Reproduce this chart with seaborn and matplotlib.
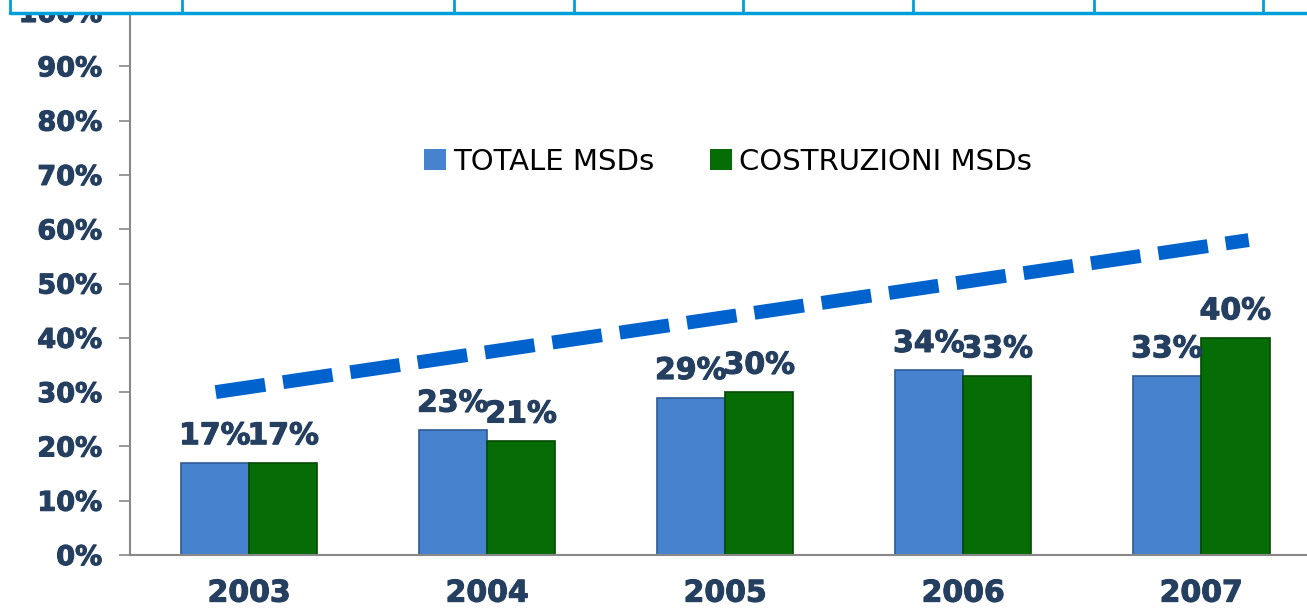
import numpy as np
import pandas as pd
import seaborn as sns
import matplotlib.pyplot as plt
import matplotlib.patheffects as pe
from matplotlib.patches import Rectangle
from matplotlib.lines import Line2D

# data
years = ["2003", "2004", "2005", "2006", "2007"]
totale = [17, 23, 29, 34, 33]
costruzioni = [17, 21, 30, 33, 40]
series_names = ["TOTALE MSDs", "COSTRUZIONI MSDs"]
trend_x = [-0.14, 4.2]
trend_y = [30, 58]
yticks = list(range(0, 101, 10))

navy = "#243F60"
blue = "#4682CE"
green = "#066C06"
thick = [pe.withStroke(linewidth=0.8, foreground=navy)]

df = pd.DataFrame({
    "anno": years * 2,
    "valore": totale + costruzioni,
    "serie": [series_names[0]] * len(years) + [series_names[1]] * len(years),
})

sns.set_style("white")
plt.rcParams['font.family'] = ['DejaVu Sans']

fig = plt.figure(figsize=(13.07, 6.08), dpi=100)
ax = fig.add_axes([130 / 1307, 53 / 608, 1177 / 1307, 543 / 608])

sns.barplot(data=df, x="anno", y="valore", hue="serie", palette=[blue, green],
            width=0.575, ax=ax, saturation=1, edgecolor=None, linewidth=0)

# darker edges, a bit like the bevel in the original
for bars, ec in zip(ax.containers, ["#2F5A94", "#044A04"]):
    for b in bars:
        b.set_edgecolor(ec)
        b.set_linewidth(1.2)
    labs = ax.bar_label(bars, labels=[f"{int(v)}%" for v in bars.datavalues], padding=9,
                        fontsize=21.5, fontweight="bold", color=navy)
    for t in labs:
        t.set_path_effects(thick)

# trend line
ax.plot(trend_x, trend_y, color="#0062CC", linewidth=10, dashes=(3.6, 1.3),
        solid_capstyle="butt", dash_capstyle="butt", zorder=5)

ax.set_yticks(yticks)
ax.set_yticklabels([f"{t}%" for t in yticks], fontsize=19.5, fontweight="bold", color=navy,
                   path_effects=thick)
ax.set_xticks(range(len(years)))
ax.set_xticklabels(years, fontsize=21.5, fontweight="bold", color=navy, path_effects=thick)
ax.set_xticks(np.arange(-0.5, len(years), 1), minor=True)
ax.set_ylim(0, 100)
ax.set_xlim(-0.5, 4.445)
ax.tick_params(axis="x", which="major", length=0, pad=17)
ax.tick_params(axis="x", which="minor", length=8, width=1.2, color="#888888", direction="out")
ax.tick_params(axis="y", length=8, width=1.2, color="#888888", direction="out", pad=12, left=True)
ax.set_xlabel("")
ax.set_ylabel("")

sns.despine(ax=ax, top=True, right=True)
for s in ["left", "bottom"]:
    ax.spines[s].set_color("#888888")
    ax.spines[s].set_linewidth(1.5)

leg = ax.legend(loc="center", bbox_to_anchor=(0.508, 0.724), ncol=2, frameon=False,
                fontsize=21, handlelength=0.75, handleheight=0.75, columnspacing=1.9,
                handletextpad=0.25)
for t in leg.get_texts():
    t.set_color("black")

# table border strip at the very top
fig.add_artist(Rectangle((0, 1 - 13 / 608), 1, 13 / 608, transform=fig.transFigure,
                         facecolor="white", edgecolor="none", zorder=10))
fig.add_artist(Line2D([10 / 1307, 1], [1 - 13 / 608] * 2, transform=fig.transFigure,
                      color="#009FD9", linewidth=2.5, zorder=11))
for xp in [10, 182, 454, 574, 743, 913, 1094, 1263]:
    fig.add_artist(Line2D([xp / 1307] * 2, [1 - 13 / 608, 1], transform=fig.transFigure,
                          color="#009FD9", linewidth=2, zorder=11))

fig.savefig("out.png", dpi=100, facecolor="white")
